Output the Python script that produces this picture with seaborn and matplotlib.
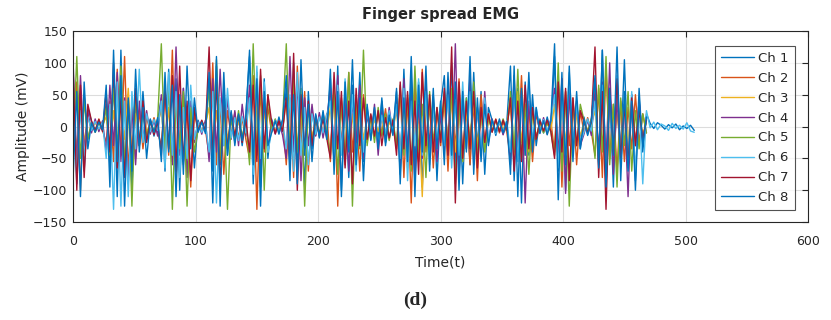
import numpy as np
import pandas as pd
import seaborn as sns
import matplotlib.pyplot as plt

# amostras a cada 3 unidades de tempo (t = 0 .. 468)
step = 3
ch1 = [60, -90, 45, -70, 30, 8, -6, 10, -4,
       35, -60, 80, -110, 120, -75, 50, -95, 40, -30, 55, -20, 12, -15, 9,
       45, -70, 90, -55, 75, -100, 60, -40, 30, -65, 10, -8, 6,
       70, -120, 95, -60, 85, -45, 20, -25, 15, -30, 18,
       110, -90, 60, -125, 75, -50, 12, -10, 15, -8,
       60, -85, 100, -70, 45, -95, 55, -35, 20, -18, 25, -15,
       75, -60, 95, -110, 50, -80, 65, -40, 85, -55, 30, -12, 25, -20, 40, -30, 15, -10,
       55, -75, 90, -50, 110, -65, 70, -95, 45, -40, 60, -85, 35,
       80, -55, 100, -70, 65, -90, 45, -60, 85, -35, 55, -75, 30, 10, -14, 8, -12, 6,
       95, -85, 60, -120, 70, -45, 50, -30, 12, -10, 15, -8,
       110, -70, 85, -100, 65, -55, 40, -35, 15, -12, 10,
       75, -60, 120, -80, 55, -95, 70, -45, 105, -65, 50, -85, 60, -40, 20]
ch2 = [-40, 70, -100, 50, -20, 5, -8, 12, -6,
       -25, 40, -55, 90, -45, 110, -70, 35, -50, 25, -35, 15, -10, 14, -8,
       -30, 55, -45, 120, -80, 40, -60, 30, -95, 20, -6, 9, -5,
       -45, 100, -60, 35, -75, 25, -15, 22, -18, 12, -20,
       -50, 80, -130, 60, -40, 30, -9, 11, -7, 10,
       -60, 45, -80, 95, -35, 55, -70, 25, -14, 18, -12, 20,
       -55, 70, -125, 45, -60, 85, -40, 30, -70, 50, -25, 15, -18, 22, -12, 28, -20, 10,
       -35, 60, -80, 45, -120, 70, -55, 90, -40, 35, -65, 25, -30,
       45, -70, 55, -35, 75, -50, 30, -60, 40, -85, 50, -25, 20, -8, 12, -10, 7, -9,
       -50, 65, -35, 80, -45, 30, -55, 20, -6, 10, -12, 8,
       -40, 75, -95, 55, -30, 45, -60, 25, -10, 14, -8,
       -45, 60, -80, 95, -50, 35, -70, 40, -55, 30, -35, 50, -25, 20, -10]
ch3 = [20, -35, 50, -25, 15, -4, 6, -5, 3,
       15, -30, 25, -45, 35, -20, 60, -40, 20, -25, 30, -10, 6, -8, 5,
       25, -40, 30, -55, 45, -30, 20, -35, 15, -20, 4, -6, 3,
       30, -45, 25, -35, 40, -20, 10, -12, 8, -15, 9,
       35, -60, 45, -30, 25, -40, 5, -7, 6, -4,
       40, -25, 55, -35, 20, -45, 30, -15, 8, -10, 12, -6,
       30, -50, 40, -25, 55, -35, 20, -60, 35, -20, 15, -5, 10, -8, 12, -15, 7, -5,
       25, -40, 35, -65, 45, -30, 20, -110, 50, -25, 30, -35, 15,
       35, -25, 45, -40, 30, -55, 25, -20, 40, -30, 20, -35, 10, 4, -6, 5, -3, 6,
       30, -45, 55, -25, 35, -40, 20, -15, 5, -7, 4, -6,
       35, -50, 30, -25, 45, -35, 20, -15, 6, -5, 4,
       25, -40, 35, -55, 45, -30, 20, -35, 30, -25, 40, -20, 15, -10, 5]
ch4 = [100, -60, 80, -40, 25, -10, 12, -8, 9,
       -40, 65, -30, 85, -55, 45, -90, 30, -60, 40, -20, 25, -12, 10, -15,
       50, -35, 70, -60, 125, -45, 60, -80, 40, -25, 8, -12, 10,
       -55, 75, -40, 90, -30, 45, -20, 25, -30, 35, -15,
       65, -45, 85, -70, 40, -35, 10, -12, 8, -14,
       -50, 110, -40, 70, -85, 45, -30, 35, -15, 22, -18, 12,
       60, -45, 80, -35, 50, -70, 40, -25, 65, -50, 20, -20, 35, -45, 25, -15, 30, -12,
       45, -60, 75, -40, 55, -85, 35, -50, 70, -30, 40, -55, 20,
       -40, 65, -50, 130, -75, 45, -35, 80, -60, 30, -45, 55, -25, 12, -10, 9, -13, 8,
       -60, 80, -45, 55, -120, 40, -30, 25, -10, 14, -9, 12,
       60, -45, 75, -105, 50, -35, 40, -30, -12, 10, -14,
       55, -40, 70, -55, 100, -75, 45, -60, 35, -110, 50, -30, 40, -25, 15]
ch5 = [-30, 110, -50, 40, -20, 7, -9, 6, -5,
       30, -45, 60, -35, 95, -60, 40, -125, 50, -30, 20, -15, 9, -7, 12,
       130, -50, 70, -130, 45, -35, 55, -125, 30, -40, -5, 8, -6,
       60, -40, 105, -55, 35, -130, 15, -20, 25, -18, 12,
       -60, 130, -45, 80, -100, 50, -8, 12, -10, 9,
       130, -55, 75, -40, 60, -125, 35, -25, 14, -12, 18, -10,
       -45, 60, -75, 40, -55, 85, -125, 50, -35, 120, -30, 18, -25, 30, -15, 20, -22, 12,
       -30, 65, -45, 50, -70, 95, -40, 35, -80, 55, -25, 30, -20,
       55, -35, 60, -90, 40, -55, 45, -30, 70, -45, 25, -40, 15, -8, 10, -6, 12, -7,
       55, -40, 90, -50, 35, -75, 25, -20, 8, -10, 6, -9,
       -45, 100, -70, 55, -125, 40, -30, 35, 10, -8, 12,
       -50, 65, -40, 110, -60, 35, -95, 45, -30, 55, -70, 25, -35, 20, -10]
ch6 = [40, -70, 25, -45, 15, -6, 8, -4, 7,
       -50, 35, -130, 70, -125, 40, -110, 55, -35, 90, -25, 20, -8, 11, -6,
       40, -65, 85, -45, 55, -80, 30, -50, 65, -20, 7, -9, 5,
       -40, 55, -120, 45, -30, 60, -18, 14, -22, 16, -10,
       45, -75, 95, -50, 70, -40, -7, 10, -9, 8,
       -35, 50, -70, 85, -45, 30, -60, 20, -12, 15, -10, 18,
       40, -55, 65, -45, 75, -30, 50, -70, 35, -40, 25, -15, 20, -28, 18, -12, 25, -8,
       35, -50, 60, -85, 40, -30, 75, -45, 55, -60, 30, -25, 40,
       -30, 50, -65, 40, -45, 70, -35, 55, -50, 30, -40, 45, -20, 9, -11, 7, -8, 10,
       -40, 60, -55, 45, -35, 70, -25, 30, -8, 11, -7, 9,
       50, -65, 40, -45, 85, -30, 35, -25, -9, 12, -7,
       40, -55, 65, -100, 45, -35, 80, -60, 30, -45, 55, -75, 35, -90, 25]
ch7 = [90, -100, 65, -80, 35, 9, -7, 11, -8,
       55, -40, 100, -65, 45, -80, 35, -50, 60, -30, 40, -25, 10, -13, 8,
       -45, 60, -35, 80, -70, 95, -55, 40, -85, 30, -7, 10, -8,
       125, -50, 70, -95, 45, -35, 22, -15, 18, -25, 12,
       -40, 65, -55, 90, -35, 50, 8, -11, 9, -7,
       45, -60, 115, -100, 50, -35, 40, -30, 16, -14, 12, -18,
       -50, 85, -35, 55, -65, 40, -90, 60, -30, 45, -20, 20, -15, 25, -30, 14, -18, 10,
       -45, 70, -35, 55, -60, 40, -75, 85, -30, 50, -40, 30, -25,
       60, -45, 125, -120, 70, -50, 40, -35, 55, -65, 30, -25, 20, -9, 11, -8, 10, -6,
       45, -70, 40, -55, 65, -35, 30, -20, 9, -7, 10, -8,
       -50, 70, -40, 60, -85, 45, -30, 25, 8, -10, 7,
       125, -80, 55, -130, 60, -40, 75, -50, 35, -60, 45, -30, 25, -20, 10]
ch8 = [-80, 55, -110, 70, -35, 6, -9, 7, -5,
       65, -95, 120, -55, 80, -125, 45, -70, 90, -40, 30, -50, 11, -9, 14,
       -55, 85, -40, 65, -110, 50, -75, 95, -35, 45, -9, 7, -11,
       85, -70, 110, -125, 60, -45, 25, -30, 20, -22, 15,
       120, -60, 75, -95, 55, -30, -10, 9, -12, 11,
       80, -65, 50, -90, 105, -45, 35, -55, 18, -16, 22, -20,
       90, -75, 55, -100, 70, -40, 105, -60, 45, -85, 35, -22, 30, -35, 45, -25, 18, -14,
       60, -90, 45, -55, 80, -110, 65, -40, 95, -70, 50, -35, 40,
       -60, 85, -45, 70, -100, 55, -40, 110, -75, 45, -55, 35, -30, 11, -9, 12, -10, 8,
       -75, 95, -110, 60, -45, 85, -40, 30, -11, 9, -13, 10,
       130, -115, 75, -60, 95, -45, 55, -35, 11, -14, 9,
       80, -65, 120, -95, 60, -45, 125, -85, 55, -70, 40, -100, 45, -30, 15]
# cauda de baixa amplitude depois de t = 468 (canais 1 e 6)
tail1 = [5, -3, 6, 2, -4, 3, -2, 4, -5, 1, -3, 2, -6]
tail6 = [-2, 7, -5, 4, 1, -6, 5, -3, 2, -4, 6, -7, -9]

channels = [ch1, ch2, ch3, ch4, ch5, ch6, ch7, ch8]
tails = {1: tail1, 6: tail6}
labels = ['Ch 1', 'Ch 2', 'Ch 3', 'Ch 4', 'Ch 5', 'Ch 6', 'Ch 7', 'Ch 8']
cores = ['#0072BD', '#D95319', '#EDB120', '#7E2F8E',
         '#77AC30', '#4DBEEE', '#A2142F', '#0072BD']

# monta tabela longa
linhas = []
for k, ch in enumerate(channels):
    vals = list(ch) + tails.get(k + 1, [])
    for i, v in enumerate(vals):
        linhas.append((i * step, v, labels[k]))
dados = pd.DataFrame(linhas, columns=['t', 'amp', 'canal'])

sns.set_style('white')
plt.rcParams['font.family'] = ['DejaVu Sans']

fig = plt.figure(figsize=(8.31, 3.20), dpi=100)
ax = fig.add_axes([0.088, 0.306, 0.8845, 0.597])

sns.lineplot(data=dados, x='t', y='amp', hue='canal', hue_order=labels,
             palette=cores, estimator=None, sort=False, linewidth=1.0, ax=ax)

ax.set_xlim(0, 600)
ax.set_ylim(-150, 150)
ax.set_xticks([0, 100, 200, 300, 400, 500, 600])
ax.set_yticks([-150, -100, -50, 0, 50, 100, 150])
ax.grid(True, color='#dcdcdc', linewidth=0.8)
ax.set_axisbelow(True)
ax.tick_params(direction='in', top=True, right=True, length=4, width=0.8,
               labelsize=9, colors='#262626', pad=4)
ax.tick_params(axis='x', pad=9)
for s in ax.spines.values():
    s.set_color('#262626')
    s.set_linewidth(0.8)

ax.set_title('Finger spread EMG', fontsize=10.5, fontweight='bold', pad=9)
ax.set_xlabel('Time(t)', fontsize=10, color='#262626', labelpad=6)
ax.set_ylabel('Amplitude (mV)', fontsize=10, color='#262626', labelpad=2)

leg = ax.legend(loc='upper right', bbox_to_anchor=(0.987, 0.942), fontsize=9.5,
                frameon=True, fancybox=False, edgecolor='#262626',
                handlelength=2.5, handletextpad=0.35, labelspacing=0.52,
                borderpad=0.45, borderaxespad=0.3, title=None)
leg.get_frame().set_linewidth(0.8)

fig.text(0.5, 0.062, '(d)', ha='center', va='center', fontsize=14,
         fontweight='bold', family=['Liberation Serif', 'DejaVu Serif'])

plt.savefig('out.png', dpi=100)
